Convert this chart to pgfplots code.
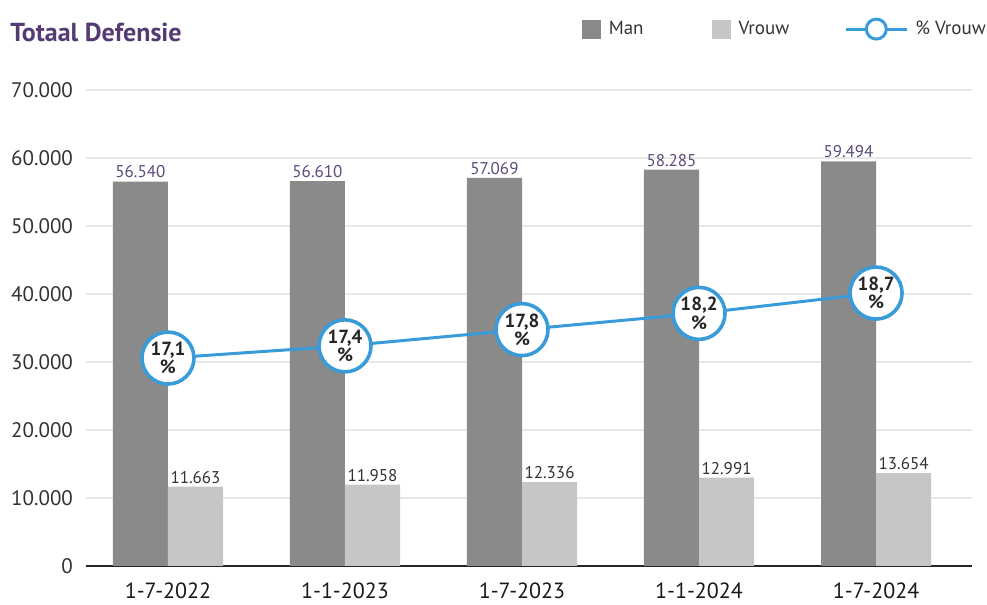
\documentclass[border=0pt]{standalone}
\usepackage{fontspec}
\setmainfont{PT Sans}
\usepackage{pgfplots}
\pgfplotsset{compat=1.18}

\definecolor{manGray}{HTML}{8A8A8A}
\definecolor{vrouwGray}{HTML}{C6C6C6}
\definecolor{lijnBlauw}{HTML}{3A9BD9}
\definecolor{titelPaars}{HTML}{553A73}
\definecolor{labelPaars}{HTML}{5C4A7D}
\definecolor{tekst}{HTML}{333333}
\definecolor{raster}{HTML}{E8E8E8}

\pgfplotsset{
  /pgf/number format/.cd, use comma, 1000 sep={.}, assume math mode=true,
  /pgfplots/.cd,
  basis/.style={width=443pt, height=238pt, scale only axis,
    xmin=-0.463, xmax=4.542},
}

\begin{document}
\begin{tikzpicture}
\begin{axis}[basis,
  ymin=0, ymax=70000, ytick={0,10000,...,70000},
  scaled y ticks=false,
  ymajorgrids, grid style={raster, line width=1pt},
  axis x line*=bottom, axis y line*=left,
  y axis line style={draw=none},
  x axis line style={-, line width=1pt, black!85},
  major tick length=0pt,
  xtick={0,1,2,3,4},
  xticklabels={1-7-2022,1-1-2023,1-7-2023,1-1-2024,1-7-2024},
  x tick label style={font=\fontsize{11}{13}\selectfont, text=black!90, yshift=-5pt},
  y tick label style={font=\fontsize{10.5}{12}\selectfont, text=tekst, xshift=-3pt},
  ybar=0pt, bar width=0.311,
  nodes near coords={\pgfmathprintnumber[int detect]{\pgfplotspointmeta}},
  every node near coord/.append style={font=\fontsize{8.5}{10}\selectfont, inner sep=1.5pt},
  clip=false,
  legend style={at={(1.016,1.128)}, anchor=east, draw=none, fill=none,
    font=\fontsize{9.5}{11}\selectfont, text=tekst, inner sep=0pt,
    nodes={inner sep=0pt},
    /tikz/column 1/.style={column sep=4pt},
    /tikz/column 2/.style={column sep=34pt},
    /tikz/column 3/.style={column sep=4pt},
    /tikz/column 4/.style={column sep=27.5pt},
    /tikz/column 5/.style={column sep=3.5pt}},
  legend columns=3,
]
\addplot[fill=manGray, draw=none,
  every node near coord/.append style={text=labelPaars},
  legend image code/.code={\fill[manGray] (0pt,-4.75pt) rectangle (9.5pt,4.75pt);}]
  coordinates {(0,56540) (1,56610) (2,57069) (3,58285) (4,59494)};
\addplot[fill=vrouwGray, draw=none,
  every node near coord/.append style={text=tekst},
  legend image code/.code={\fill[vrouwGray] (0pt,-4.75pt) rectangle (9.5pt,4.75pt);}]
  coordinates {(0,11663) (1,11958) (2,12336) (3,12991) (4,13654)};
\addlegendimage{legend image code/.code={
  \draw[lijnBlauw, line width=1.5pt] (0pt,0pt) -- (30.5pt,0pt);
  \draw[lijnBlauw, fill=white, line width=1.5pt] (15.25pt,0pt) circle (5pt);}}
\legend{Man,Vrouw,\% Vrouw}

\node[anchor=west, inner sep=0pt, font=\bfseries\fontsize{13}{15}\selectfont, text=titelPaars]
  at ([xshift=-38pt, yshift=29pt] rel axis cs:0,1) {Totaal Defensie};
\coordinate (lo) at (rel axis cs:0,0);
\end{axis}

\begin{axis}[basis,
  ymin=11.98, ymax=23.70, axis lines=none, clip=false,
  point meta=y,
  nodes near coords={\pgfmathprintnumber[fixed, fixed zerofill, precision=1]{\pgfplotspointmeta}\\\%},
  every node near coord/.append style={anchor=center, align=center,
    font=\bfseries\fontsize{9.5}{8}\selectfont, text=black!85, inner sep=0pt},
]
\addplot[lijnBlauw, line width=1.5pt, mark=*, mark size=13pt,
  mark options={fill=white, draw=lijnBlauw, line width=1.8pt}]
  coordinates {(0,17.1) (1,17.4) (2,17.8) (3,18.2) (4,18.7)};
\end{axis}

\pgfresetboundingbox
\path[use as bounding box] (lo) ++(-43pt,-19.5pt) rectangle ++(493.5pt,302.5pt);
\end{tikzpicture}
\end{document}
